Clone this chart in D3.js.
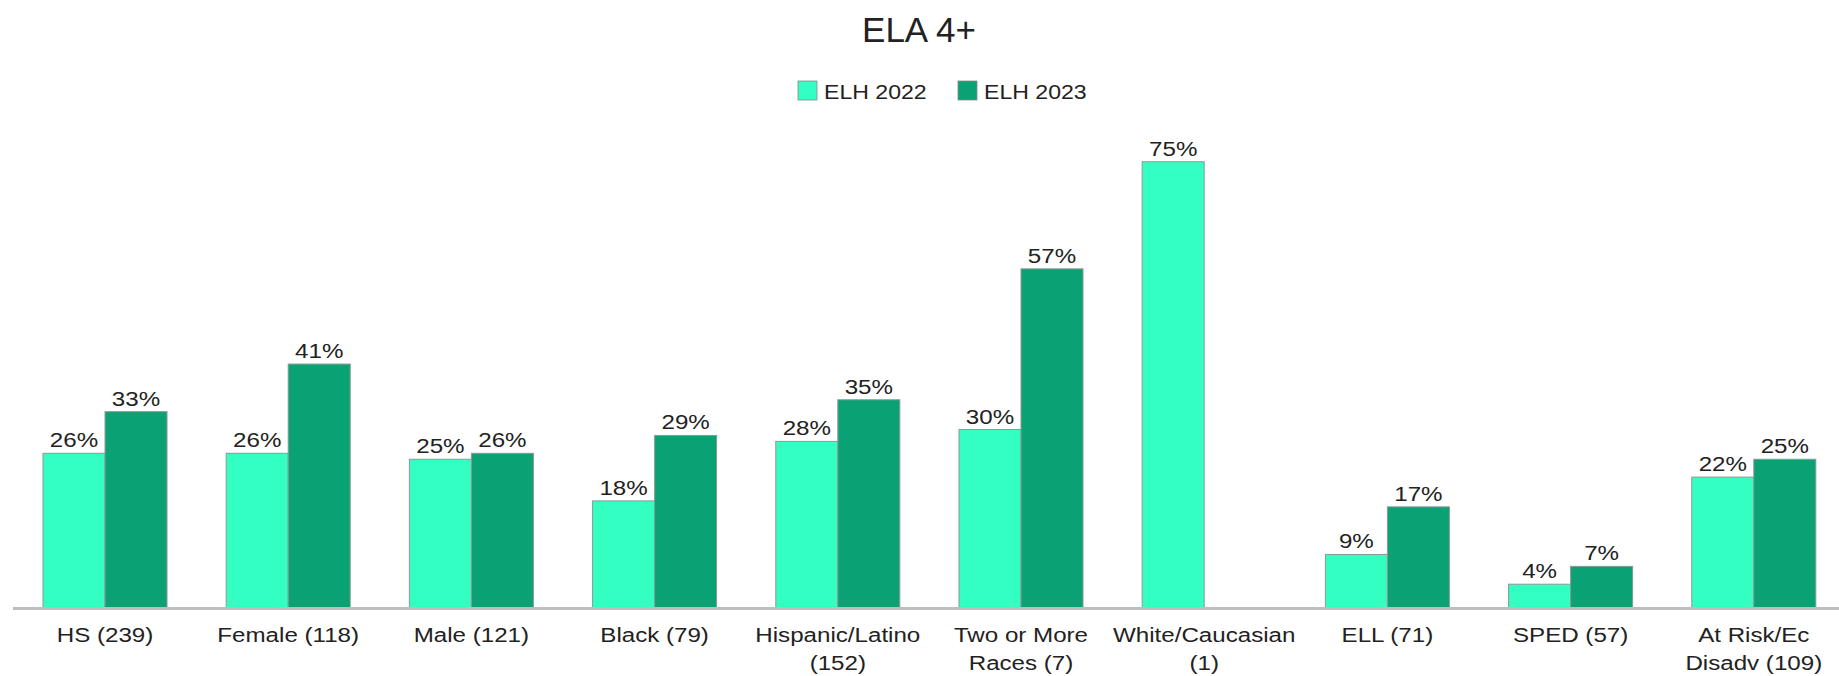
<!DOCTYPE html>
<html>
<head>
<meta charset="utf-8">
<script src="https://cdn.jsdelivr.net/npm/d3@7"></script>
<style>
  html, body { margin: 0; padding: 0; background: #fff; }
  svg { display: block; }
  text { font-family: "Liberation Sans", Arial, sans-serif; fill: #222; }
</style>
</head>
<body>
<svg id="chart" width="1839" height="676"></svg>
<script>
// Student groups (label lines) and percent at level 4+
const categories = [
  ["HS (239)"],
  ["Female (118)"],
  ["Male (121)"],
  ["Black (79)"],
  ["Hispanic/Latino", "(152)"],
  ["Two or More", "Races (7)"],
  ["White/Caucasian", "(1)"],
  ["ELL (71)"],
  ["SPED (57)"],
  ["At Risk/Ec", "Disadv (109)"]
];
const seriesNames = ["ELH 2022", "ELH 2023"];
const elh2022 = [26, 26, 25, 18, 28, 30, 75, 9, 4, 22];
const elh2023 = [33, 41, 26, 29, 35, 57, null, 17, 7, 25];
const seriesColors = ["#33ffc2", "#0aa274"];

const svg = d3.select("#chart");
const W = 1839, H = 676;
const baseY = 608;
const stretch = 1.15; // wide glyph rendering for small labels

const keys = categories.map(c => c.join(" "));
const x0 = d3.scaleBand().domain(keys).range([13.4, 1845.4])
  .paddingInner(0.323).paddingOuter(0.1615);
const x1 = d3.scaleBand().domain(seriesNames).range([0, x0.bandwidth()]);
const y = d3.scaleLinear().domain([0, 80]).range([baseY, 132]);
const color = d3.scaleOrdinal().domain(seriesNames).range(seriesColors);

// Title
svg.append("text")
  .attr("x", 919).attr("y", 42)
  .attr("text-anchor", "middle")
  .style("font-size", "35px")
  .text("ELA 4+");

// Legend
const legendItems = [{ name: seriesNames[0], x: 798 }, { name: seriesNames[1], x: 958 }];
const legend = svg.append("g");
legendItems.forEach(d => {
  legend.append("rect")
    .attr("x", d.x).attr("y", 81).attr("width", 19).attr("height", 19)
    .attr("fill", color(d.name)).attr("stroke", "#888").attr("stroke-width", 0.8);
  legend.append("g")
    .attr("transform", `translate(${d.x + 26},99) scale(1.1,1)`)
    .append("text")
    .style("font-size", "21px")
    .text(d.name);
});

// Bars
const rows = keys.map((k, i) => ({ key: k, values: [
  { name: seriesNames[0], v: elh2022[i] },
  { name: seriesNames[1], v: elh2023[i] }
].filter(d => d.v != null) }));

const groups = svg.append("g").selectAll("g").data(rows).join("g")
  .attr("transform", d => `translate(${x0(d.key)},0)`);

groups.selectAll("rect").data(d => d.values).join("rect")
  .attr("x", d => x1(d.name))
  .attr("y", d => y(d.v))
  .attr("width", x1.bandwidth())
  .attr("height", d => baseY - y(d.v))
  .attr("fill", d => color(d.name))
  .attr("stroke", "#8a9a94").attr("stroke-width", 1);

groups.selectAll("g.val").data(d => d.values).join("g")
  .attr("class", "val")
  .attr("transform", d => `translate(${x1(d.name) + x1.bandwidth() / 2},${y(d.v) - 6}) scale(${stretch},1)`)
  .append("text")
  .attr("text-anchor", "middle")
  .style("font-size", "21px")
  .text(d => d.v + "%");

// Baseline axis
svg.append("line")
  .attr("x1", 13).attr("x2", W).attr("y1", baseY + 0.5).attr("y2", baseY + 0.5)
  .attr("stroke", "#bdbdbd").attr("stroke-width", 3);

// Category labels
const xAxis = d3.axisBottom(x0).tickSize(0).tickFormat("");
const axisG = svg.append("g").attr("transform", `translate(0,${baseY})`).call(xAxis);
axisG.select(".domain").remove();
axisG.selectAll(".tick").each(function(d, i) {
  const t = d3.select(this).append("text")
    .attr("text-anchor", "middle")
    .attr("transform", `scale(${stretch},1)`)
    .style("font-size", "21px")
    .attr("fill", "#222");
  categories[i].forEach((line, j) => {
    t.append("tspan").attr("x", 0).attr("y", 34 + j * 28).text(line);
  });
});
</script>
</body>
</html>
